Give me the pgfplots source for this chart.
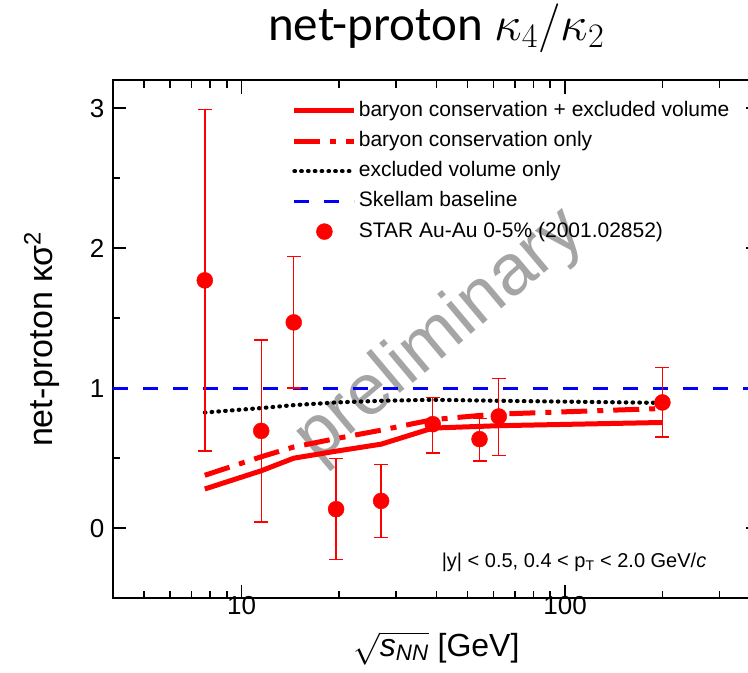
\RequirePackage{fix-cm}
\documentclass[border=0pt]{standalone}
\usepackage{amsmath}
\usepackage{fontspec}
\setmainfont{Liberation Sans}
\newfontfamily\titlefont{Carlito}
\usepackage{pgfplots}
\pgfplotsset{compat=1.18}
\definecolor{wmgray}{RGB}{165,165,165}
\pgfplotsset{
  lineleg/.style={legend image code/.code={\draw[##1] (0pt,0pt) -- (60pt,0pt);}},
  markleg/.style={legend image code/.code={\draw[##1] plot coordinates {(30pt,0pt)};}},
}

\begin{document}
\begin{tikzpicture}
% page frame: the visible window of the figure
\draw[white] (-112.7pt,-73.7pt) rectangle (635.3pt,598.3pt);
\begin{scope}[overlay]
% watermark behind the data
\node[rotate=40, text=wmgray, font=\fontsize{72}{72}\selectfont] at (327.3pt,262pt) {preliminary};
\begin{axis}[
  at={(0pt,0pt)}, anchor=south west,
  scale only axis, width=647.3pt, height=518.3pt,
  xmode=log, xmin=4, xmax=400, ymin=-0.5, ymax=3.2,
  clip=false,
  xtick={10,100}, xticklabels={10,100},
  minor xtick={4,5,6,7,8,9,20,30,40,50,60,70,80,90,200,300,400},
  ytick={0,1,2,3}, yticklabels={0,1,2,3},
  minor ytick={-0.5,0.5,1.5,2.5},
  tick align=inside, tick pos=both,
  major tick length=13.5pt, minor tick length=7.5pt,
  tick style={line width=1.5pt, black},
  axis line style={line width=2pt},
  tick label style={font=\fontsize{26}{26}\selectfont},
  yticklabel style={xshift=-5pt},
  xticklabel style={yshift=5pt},
  title={net-proton $\kappa_4/\kappa_2$},
  title style={font=\titlefont\fontsize{49}{49}\selectfont, at={(axis description cs:0.5,1)}, anchor=base, yshift=34pt},
  xlabel={$\sqrt{\textit{s}_{\textit{NN}}}$ [GeV]},
  xlabel style={font=\fontsize{32}{32}\selectfont, at={(axis description cs:0.5,0)}, anchor=base, yshift=-58pt},
  ylabel={net-proton κσ\textsuperscript{2}},
  ylabel style={font=\fontsize{34}{34}\selectfont, at={(axis description cs:-0.0927,0.5)}, anchor=base},
  legend style={draw=none, fill=none, at={(axis description cs:0.2765,0.9604)}, anchor=north west,
    inner sep=0pt, font=\fontsize{21}{21}\selectfont, row sep=10.2pt,
    nodes={inner ysep=0pt, inner xsep=2pt, text height=15.5pt, text depth=4.5pt}},
  legend cell align=left,
]
% baryon conservation + excluded volume
\addplot[red, line width=5pt, mark=none, lineleg]
  table {
x y
7.7 0.28
11.5 0.41
14.5 0.50
19.6 0.55
27 0.60
39 0.715
54.4 0.727
62.4 0.732
200 0.755
};
\addlegendentry{baryon conservation + excluded volume}
% baryon conservation only
\addplot[red, line width=5pt, mark=none, dash pattern=on 26pt off 10pt on 6pt off 10pt, lineleg]
  table {
x y
7.7 0.378
11.5 0.51
14.5 0.58
19.6 0.64
27 0.70
39 0.775
54.4 0.805
62.4 0.815
200 0.855
};
\addlegendentry{baryon conservation only}
% excluded volume only
\addplot[black, line width=4.2pt, mark=none, line cap=round, dash pattern=on 0.6pt off 6.2pt, lineleg]
  table {
x y
7.7 0.826
11.5 0.858
14.5 0.879
19.6 0.898
27 0.910
39 0.917
54.4 0.912
62.4 0.910
200 0.895
};
\addlegendentry{excluded volume only}
% Skellam baseline
\addplot[blue, line width=3pt, mark=none, dash pattern=on 15pt off 15pt, lineleg]
  coordinates {(4,1) (400,1)};
\addlegendentry{Skellam baseline}
% STAR data
\addplot[red, only marks, mark=*, mark size=8pt, mark options={fill=red, draw=red}, markleg,
  error bars/.cd, y dir=both, y explicit,
  error bar style={line width=1.4pt, red},
  error mark options={rotate=90, line width=1.4pt, mark size=7pt, red}]
  table[x=x, y=y, y error plus=ep, y error minus=em] {
x y ep em
7.7 1.77 1.22 1.22
11.5 0.695 0.65 0.65
14.5 1.47 0.47 0.47
19.6 0.136 0.36 0.36
27 0.195 0.26 0.26
39 0.743 0.19 0.205
54.4 0.636 0.147 0.156
62.4 0.798 0.27 0.28
200 0.898 0.25 0.246
};
\addlegendentry{STAR Au-Au 0-5\% (2001.02852)}
\node[anchor=base west, font=\fontsize{20}{20}\selectfont] at (axis description cs:0.503,0.0585)
  {|y| < 0.5, 0.4 < p\textsubscript{T} < 2.0 GeV/\textit{c}};
% top edge of the frame with its inward ticks
\draw[line width=2pt, black] (rel axis cs:0,1) -- (rel axis cs:1,1);
\pgfplotsinvokeforeach{4,5,6,7,8,9,20,30,40,50,60,70,80,90,200,300}{
  \draw[line width=1.5pt, black] (axis cs:#1,3.2) -- ++(0pt,-7.5pt);
}
\pgfplotsinvokeforeach{10,100}{
  \draw[line width=1.5pt, black] (axis cs:#1,3.2) -- ++(0pt,-13.5pt);
}
\end{axis}
\end{scope}
\end{tikzpicture}
\end{document}
